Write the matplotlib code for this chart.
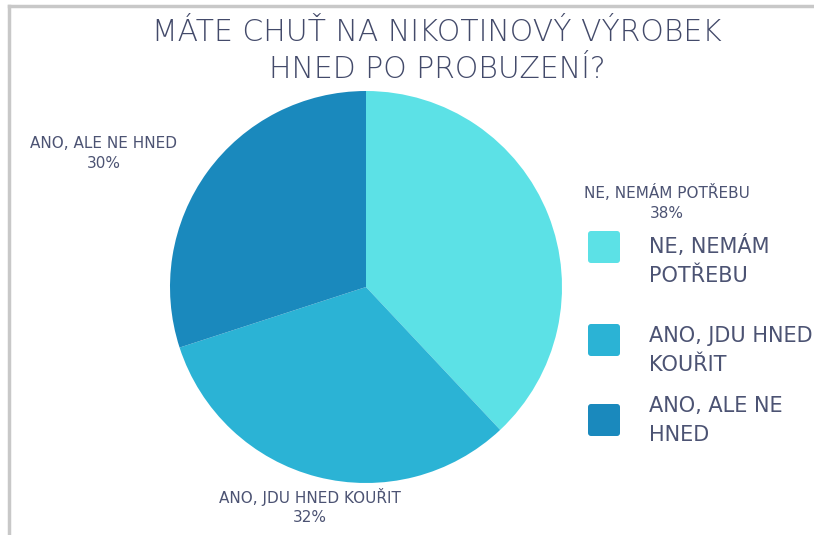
import matplotlib
matplotlib.use("Agg")
import matplotlib.pyplot as plt
from matplotlib.patches import FancyBboxPatch
from matplotlib.lines import Line2D

title = "MÁTE CHUŤ NA NIKOTINOVÝ VÝROBEK\nHNED PO PROBUZENÍ?"
categories = ["NE, NEMÁM POTŘEBU", "ANO, JDU HNED KOUŘIT", "ANO, ALE NE HNED"]
legend_labels = ["NE, NEMÁM\nPOTŘEBU", "ANO, JDU HNED\nKOUŘIT", "ANO, ALE NE\nHNED"]
values = [38, 32, 30]
colors = ["#5CE1E6", "#2BB3D5", "#1A89BD"]

text_color = "#4C5373"
W, H = 814, 535
fig = plt.figure(figsize=(W / 100, H / 100), dpi=100)
ax = fig.add_axes([0, 0, 1, 1])

ax.pie(values, colors=colors, startangle=90, counterclock=False,
       center=(366, H - 287), radius=196, wedgeprops=dict(linewidth=0))
ax.set_xlim(0, W)
ax.set_ylim(0, H)
ax.set_aspect("equal")
ax.axis("off")

# frame lines (top and left)
fig.add_artist(Line2D([8.5 / W, 1], [1 - 5.5 / H, 1 - 5.5 / H], color="#C8C8C8", lw=2.5))
fig.add_artist(Line2D([8.5 / W, 8.5 / W], [0, 1 - 5.5 / H], color="#C8C8C8", lw=2.5))

font = "DejaVu Sans"
ax.text(437, H - 51, title, ha="center", va="center", fontsize=21.5,
        color="#434A6A", family=font, fontweight="light", linespacing=1.39)

label_pos = [(667, H - 193), (310, H - 497), (104, H - 143)]
for (x, y), cat, v in zip(label_pos, categories, values):
    ax.text(x, y, cat, ha="center", va="center", fontsize=11, color=text_color,
            family=font, fontstretch="normal")
    ax.text(x, y - 21, f"{v}%", ha="center", va="center", fontsize=11, color=text_color,
            family=font, fontstretch="normal")

box_tops = [230, 323, 403]
text_tops = [235, 326, 396]
for top, ttop, lab, c in zip(box_tops, text_tops, legend_labels, colors):
    ax.add_patch(FancyBboxPatch((588, H - top - 33), 32, 32,
                                boxstyle="round,pad=0,rounding_size=3",
                                facecolor=c, edgecolor="none"))
    ax.text(649, H - ttop, lab, ha="left", va="top", fontsize=15,
            color=text_color, family=font, fontweight="medium", linespacing=1.56)

fig.savefig("out.png", dpi=100)
